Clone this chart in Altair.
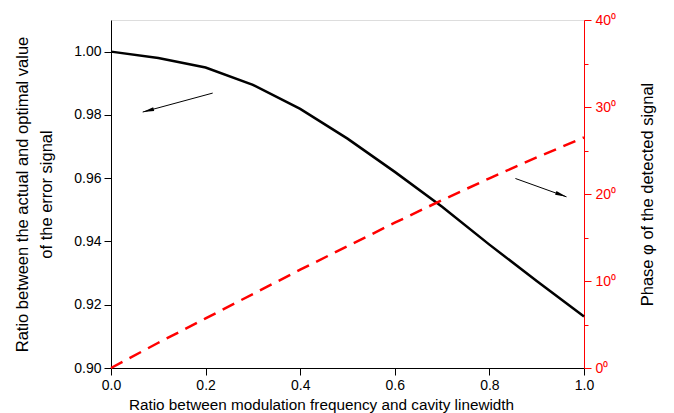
import altair as alt
import pandas as pd

# data
x_vals = [0.0, 0.1, 0.2, 0.3, 0.4, 0.5, 0.6, 0.7, 0.8, 0.9, 1.0]
ratio_vals = [1.000, 0.998, 0.995, 0.9895, 0.9819, 0.9725, 0.962, 0.951, 0.939, 0.9275, 0.9163]
phase_vals = [0.0, 2.9, 5.7, 8.5, 11.3, 14.0, 16.7, 19.3, 21.8, 24.2, 26.5]

# annotation arrows (start -> tip), in data units of the left axis
arrow_x1 = [0.215, 0.855]
arrow_y1 = [0.9869, 0.9599]
arrow_x2 = [0.067, 0.963]
arrow_y2 = [0.9809, 0.9541]
arrow_angle = [255, 110]

left_ticks = [0.90, 0.91, 0.92, 0.93, 0.94, 0.95, 0.96, 0.97, 0.98, 0.99, 1.00]
right_ticks = [0, 5, 10, 15, 20, 25, 30, 35, 40]
x_ticks = [0.0, 0.2, 0.4, 0.6, 0.8, 1.0]

df = pd.DataFrame({"x": x_vals, "ratio": ratio_vals, "phase": phase_vals})
arr = pd.DataFrame({"x1": arrow_x1, "y1": arrow_y1, "x2": arrow_x2, "y2": arrow_y2, "ang": arrow_angle})

FONT = "Liberation Sans"

xenc = alt.X(
    "x:Q",
    scale=alt.Scale(domain=[0, 1], nice=False),
    axis=alt.Axis(
        values=x_ticks, format=".1f", title="Ratio between modulation frequency and cavity linewidth",
        grid=False, domainColor="black", tickColor="black", tickSize=7, labelPadding=3,
        labelFlush=False,
        labelFontSize=14, titleFontSize=15.3, titleFontWeight="normal", titlePadding=5,
        labelColor="black", titleColor="black", labelFont=FONT, titleFont=FONT,
        titleX=210, titleAlign="center", titleAnchor="start",
    ),
)

yleft_scale = alt.Scale(domain=[0.90, 1.01], nice=False, zero=False)

black = alt.Chart(df).mark_line(color="black", strokeWidth=2.5).encode(
    x=xenc,
    y=alt.Y(
        "ratio:Q",
        scale=yleft_scale,
        axis=alt.Axis(
            values=left_ticks,
            labelExpr="round(datum.value*100) % 2 == 0 ? format(datum.value, '.2f') : ''",
            tickSize={"condition": {"test": "round(datum.value*100) % 2 == 0", "value": 7}, "value": 4},
            title=["Ratio between the actual and optimal value", "of the error signal"],
            grid=False, domainColor="black", tickColor="black", labelPadding=3,
            labelFontSize=14, titleFontSize=16.5, titleFontWeight="normal", titlePadding=19,
            titleLineHeight=24,
            labelColor="black", titleColor="black", labelFont=FONT, titleFont=FONT,
        ),
    ),
)

shafts = alt.Chart(arr).mark_rule(color="black", strokeWidth=1).encode(
    x="x1:Q", y=alt.Y("y1:Q", scale=yleft_scale), x2="x2:Q", y2="y2:Q"
)
heads = alt.Chart(arr).mark_point(
    shape="M0,0L-0.35,2L0.35,2Z", filled=True, color="black", opacity=1, size=130
).encode(x="x2:Q", y=alt.Y("y2:Q", scale=yleft_scale), angle=alt.Angle("ang:Q", scale=None))

left = alt.layer(black, shafts, heads)

red = alt.Chart(df).mark_line(color="#ff0000", strokeWidth=2.5, strokeDash=[13, 8]).encode(
    x=xenc,
    y=alt.Y(
        "phase:Q",
        scale=alt.Scale(domain=[0, 40], nice=False),
        axis=alt.Axis(
            orient="right", values=right_ticks,
            labelExpr="datum.value % 10 == 0 ? datum.value + '\u2070' : ''",
            tickSize={"condition": {"test": "datum.value % 10 == 0", "value": 7}, "value": 4},
            title="Phase \u03c6 of the detected signal", titleAngle=270,
            grid=False, domainColor="#ff0000", tickColor="#ff0000", labelColor="#ff0000",
            titleColor="black", labelPadding=4, labelFontSize=14, titleFontSize=16.5,
            titleFontWeight="normal", titlePadding=40, labelFont=FONT, titleFont=FONT,
        ),
    ),
)

chart = (
    alt.layer(left, red)
    .resolve_scale(y="independent")
    .properties(width=473, height=348, autosize=alt.AutoSizeParams(type="none"),
                padding={"left": 103, "top": 12, "right": 78, "bottom": 45})
    .configure_view(stroke="black", strokeWidth=1.2)
    .configure_axis(domainWidth=1.5, tickWidth=1.5)
    .configure(background="white")
)

chart.save("out.html", embed_options={"renderer": "svg", "actions": False})
